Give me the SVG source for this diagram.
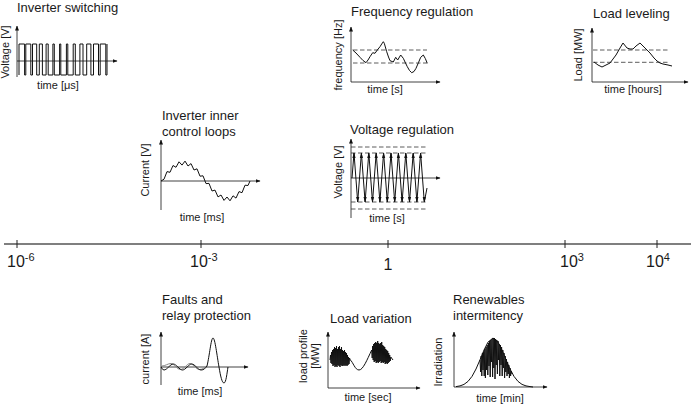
<svg xmlns="http://www.w3.org/2000/svg" width="691" height="406" viewBox="0 0 691 406">
<style>
text{font-family:"Liberation Sans",Arial,sans-serif;fill:#1a1a1a}
.t{font-size:13px}
.l{font-size:11px}
.lm{font-size:11px;text-anchor:middle}
.tk{font-size:16px}
.sp{font-size:11px}
.ax{stroke:#111;stroke-width:0.8;fill:none;marker-end:url(#arr)}
.c{stroke:#111;stroke-width:1;fill:none;stroke-linejoin:round}
.n{stroke:#111;stroke-width:1;fill:none}
.d{stroke:#333;stroke-width:0.8;fill:none;stroke-dasharray:4.5,2.5}
.ah{fill:#111}
</style>
<defs>
<marker id="arr" viewBox="0 0 10 10" refX="9" refY="5" markerWidth="5" markerHeight="5" markerUnits="userSpaceOnUse" orient="auto">
<path d="M0,1 L10,5 L0,9 z" fill="#111"/>
</marker>
</defs>
<rect width="691" height="406" fill="#fff"/>

<g id="timescale">
<line x1="4" y1="244" x2="691" y2="244" stroke="#555" stroke-width="1.6"/>
<g stroke="#222" stroke-width="1">
<line x1="17" y1="240" x2="17" y2="248"/>
<line x1="201" y1="240" x2="201" y2="248"/>
<line x1="388" y1="240" x2="388" y2="248"/>
<line x1="565" y1="240" x2="565" y2="248"/>
<line x1="657" y1="240" x2="657" y2="248"/>
</g>
<text class="tk" x="7" y="267">10<tspan class="sp" dy="-6">-6</tspan></text>
<text class="tk" x="190" y="267">10<tspan class="sp" dy="-6">-3</tspan></text>
<text class="tk" x="388" y="270" text-anchor="middle">1</text>
<text class="tk" x="560" y="267">10<tspan class="sp" dy="-6">3</tspan></text>
<text class="tk" x="646" y="267">10<tspan class="sp" dy="-6">4</tspan></text>
</g>

<g id="inverter-switching">
<text class="t" x="17" y="12">Inverter switching</text>
<path class="ax" d="M17,77 V26"/>
<path class="ax" d="M17,61 H117"/>
<path class="c" stroke-width="0.9" d="M19,75 V44 H24.6 V75 H25.8 V44 H30.8 V75 H32.5 V44 H36.7 V75 H39.3 V44 H42.4 V75 H46.1 V44 H48.2 V75 H52.9 V44 H54.3 V75 H59.6 V44 H60.8 V75 H66.4 V44 H67.8 V75 H73.2 V44 H75.3 V75 H79.9 V44 H83.0 V75 H86.7 V44 H90.9 V75 H93.5 V44 H98.5 V75 H100.2 V44 H105.8 V75 H107 V44"/>
<text class="lm" transform="translate(9,52) rotate(-90)">Voltage [V]</text>
<text class="lm" x="58" y="89">time [μs]</text>
</g>

<g id="inverter-inner-loops">
<text class="t" x="162" y="120">Inverter inner</text>
<text class="t" x="162" y="136">control loops</text>
<path class="ax" d="M161,210 V140"/>
<path class="ax" d="M161,181 H260"/>
<polyline class="c" points="161,181 164,179.2 167,171.6 170,172.3 173,165.5 176,167.3 179,161.8 182,165.1 185,161.1 188,166 191,163.6 194,170 197,168.8 200,176.2 203,175.8 206,183.6 209,183.4 212,191 215,190.1 218,196.9 221,195 224,200.4 227,197 230,200.8 233,195.8 236,198.1 239,191.6 242,192.7 245,185.2 248,185.5 250,181"/>
<text class="lm" transform="translate(149,170) rotate(-90)">Current [V]</text>
<text class="lm" x="202" y="221">time [ms]</text>
</g>

<g id="frequency-regulation">
<text class="t" x="351" y="16">Frequency regulation</text>
<path class="ax" d="M351,82 V27"/>
<path class="ax" d="M351,82 H440"/>
<path class="d" d="M353,50 H427 M353,63 H427"/>
<polyline class="c" points="352.7,50 356,53 360,57.3 363,60.5 366,62.7 368,60 370,56.7 372.7,52.7 375,53.3 377.3,50 380,46.7 381.7,44 383.3,41.7 384.3,43.3 386.7,51.7 388.5,57 390,60.7 393.3,62 395.7,57.3 397.7,60 400.7,55 403.3,58.3 405.5,63 407.3,66.7 409.5,70.5 411.7,72.7 414,71.5 416,68.3 418.5,62.5 420.7,57.3 423.3,55 425.3,58.5 427.3,63.3"/>
<text class="lm" transform="translate(342,55) rotate(-90)">frequency [Hz]</text>
<text class="lm" x="385" y="93">time [s]</text>
</g>

<g id="voltage-regulation">
<text class="t" x="350" y="134">Voltage regulation</text>
<path class="ax" d="M351,218 V139"/>
<path class="ax" d="M351,178 H440"/>
<path class="d" d="M351,147 H427 M351,153 H427 M351,202 H427 M351,209 H427"/>
<polyline class="c" points="352,178 354,153 357.7,202 361.4,153 365.1,202 368.8,153 372.5,202 376.2,153 379.9,202 383.6,153 387.3,202 391,153 394.7,202 398.4,153 402.1,202 405.8,153 409.5,202 413.2,153 416.9,202 420.6,153 424.3,202 427,188"/>
<g class="ah">
<path d="M352.4,158 L354,152.5 L355.6,158z M359.8,158 L361.4,152.5 L363,158z M367.2,158 L368.8,152.5 L370.4,158z M374.6,158 L376.2,152.5 L377.8,158z M382,158 L383.6,152.5 L385.2,158z M389.4,158 L391,152.5 L392.6,158z M396.8,158 L398.4,152.5 L400,158z M404.2,158 L405.8,152.5 L407.4,158z M411.6,158 L413.2,152.5 L414.8,158z M419,158 L420.6,152.5 L422.2,158z"/>
<path d="M356.1,197 L357.7,202.5 L359.3,197z M363.5,197 L365.1,202.5 L366.7,197z M370.9,197 L372.5,202.5 L374.1,197z M378.3,197 L379.9,202.5 L381.5,197z M385.7,197 L387.3,202.5 L388.9,197z M393.1,197 L394.7,202.5 L396.3,197z M400.5,197 L402.1,202.5 L403.7,197z M407.9,197 L409.5,202.5 L411.1,197z M415.3,197 L416.9,202.5 L418.5,197z M422.7,197 L424.3,202.5 L425.9,197z"/>
</g>
<text class="lm" transform="translate(342,172) rotate(-90)">Voltage [V]</text>
<text class="lm" x="387" y="222">time [s]</text>
</g>

<g id="load-leveling">
<text class="t" x="593" y="18">Load leveling</text>
<path class="ax" d="M592,82 V28"/>
<path class="ax" d="M592,82 H688"/>
<path class="d" d="M593,50 H670 M593,62.3 H670"/>
<polyline class="c" points="594,62 598,65 602,67 606,65 610,63 613,59 616,55 620,48 623,43 627,48 630,49 633,49 636,46 640,43 645,48 650,53 654,58 657,61 660,63 663,64 668,65 672,66"/>
<text class="lm" transform="translate(582,55) rotate(-90)">Load [MW]</text>
<text class="lm" x="633" y="93">time [hours]</text>
</g>

<g id="faults-relay-protection">
<text class="t" x="162" y="304">Faults and</text>
<text class="t" x="162" y="320">relay protection</text>
<path class="ax" d="M161,385 V332"/>
<path class="ax" d="M161,367 H248"/>
<path stroke="#888" stroke-width="1" fill="none" d="M162,366 C165,366 168,363.5 171,363.5 C174,363.5 177,369.5 180.5,369.5 C184,369.5 187,363.5 190,363.5 C193,363.5 196,369.5 199.5,369.5 C203,369.5 205,367 207,366"/>
<path class="c" d="M161,367 Q162.5,370 164,370 C167,370 170.2,364 173.25,364 C176.3,364 179.4,370 182.5,370 C185.6,370 188.7,364 191.75,364 C194.8,364 197.9,370 201,370 C204,370 205,368.5 207,366 C209.5,356 211,338 213,338 C215,338 217,356 219,367 C220.5,376 222,383 224,383 C226,383 227,373 228,367"/>
<text class="lm" transform="translate(149,359) rotate(-90)">current [A]</text>
<text class="lm" x="200" y="395">time [ms]</text>
</g>

<g id="load-variation">
<text class="t" x="330" y="323">Load variation</text>
<path class="ax" d="M328,388 V332"/>
<path class="ax" d="M328,388 H420"/>
<path class="n" d="M330,360 L330.5,355 331,363 331.5,352 332,364 332.5,350 333,366 333.5,349 334,365 334.5,347 335,367 335.5,348 336,366 336.5,346 337,367 337.5,349 338,365 338.5,347 339,366 339.5,346 340,367 340.5,349 341,365 341.5,347 342,366 342.5,350 343,366 343.5,351 344,365 344.5,350 345,366 345.5,352 346,365 346.5,353 347,366 347.5,355 348,365 348.5,357 349,364 349.5,358 350.3,360 C353,362 355,370 359,370 C363,370 367,360 371.7,350 L372.2,358 372.7,346 373.2,360 373.7,344 374.2,362 374.7,343 375.2,361 375.7,342 376.2,363 376.7,343 377.2,362 377.7,341 378.2,363 378.7,343 379.2,362 379.7,344 380.2,361 380.7,343 381.2,363 381.7,342 382.2,362 382.7,345 383.2,363 383.7,346 384.2,362 384.7,347 385.2,364 385.7,349 386.2,363 386.7,350 387.2,364 387.7,351 388.2,363 388.7,353 389.2,362 389.7,355 390.2,361 390.8,357 391.5,358 393,360"/>
<text class="lm" transform="translate(307,356) rotate(-90)">load profile</text>
<text class="lm" transform="translate(319,356) rotate(-90)">[MW]</text>
<text class="lm" x="368" y="401">time [sec]</text>
</g>

<g id="renewables-intermitency">
<text class="t" x="453" y="304">Renewables</text>
<text class="t" x="453" y="320">intermitency</text>
<path class="ax" d="M454,387 V332"/>
<path class="ax" d="M454,387 H547"/>
<polyline class="c" points="456,386.6 460,385.9 464,384.4 468,381.4 472,376.4 476,369 480,359.8 484,350 488,342.1 493,338 498,342.1 502,350 506,359.8 510,369 514,376.4 518,381.4 522,384.4 526,385.9 530,386.6 533,387"/>
<polyline class="n" points="480,360 480.6,372 481.2,356 481.8,376 482.4,353 483,370 483.6,352 484.2,376 484.8,349 485.4,378 486,347 486.6,370 487.2,345 487.8,375 488.4,343 489,366 489.6,341 490.2,377 490.8,340 491.4,362 492,339 492.6,377 493.2,338 493.8,368 494.4,338 495,379 495.6,339 496.2,365 496.8,340 497.4,374 498,341 498.6,360 499.2,344 499.8,376 500.4,345 501,365 501.6,347 502.2,376 502.8,350 503.4,368 504,353 504.6,378 505.2,356 505.8,372 506.4,359 507,376 507.6,362 508.2,374 508.8,365 509.4,378 510,368 510.6,376 511.2,371 512,374"/>
<text class="lm" transform="translate(442,362) rotate(-90)">Irradiation</text>
<text class="lm" x="500" y="402">time [min]</text>
</g>
</svg>
